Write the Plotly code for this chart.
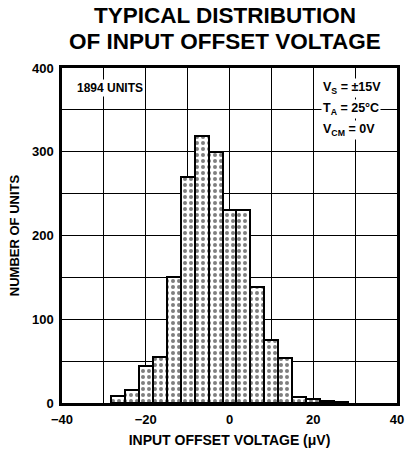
import plotly.graph_objects as go

bin_centers = [-26.67, -23.33, -20.0, -16.67, -13.33, -10.0, -6.67, -3.33, 0.0,
               3.33, 6.67, 10.0, 13.33, 16.67, 20.0, 23.33, 26.67]
unit_counts = [8, 15, 44, 55, 150, 270, 319, 300, 231, 231, 139, 75, 54, 7, 5, 2, 1]
bin_width = 10 / 3

x_tick_vals = list(range(-40, 41, 10))
x_tick_text = ["\u221240" if v == -40 else ("\u221220" if v == -20 else (str(v) if v % 20 == 0 else "")) for v in x_tick_vals]
y_tick_vals = list(range(0, 401, 50))
y_tick_text = [str(v) if v % 100 == 0 else "" for v in y_tick_vals]

title_lines = ["TYPICAL DISTRIBUTION", "OF INPUT OFFSET VOLTAGE"]
condition_lines = ["V<sub>S</sub> = \u00b115V", "T<sub>A</sub> = 25\u00b0C", "V<sub>CM</sub> = 0V"]

FONT = "Liberation Sans, Arial, sans-serif"

fig = go.Figure()
fig.add_trace(go.Bar(
    x=bin_centers,
    y=unit_counts,
    width=[bin_width] * len(bin_centers),
    marker=dict(
        color="white",
        line=dict(color="black", width=2),
        pattern=dict(shape=".", fgcolor="black", bgcolor="white", size=6, solidity=0.35),
    ),
    showlegend=False,
    hoverinfo="skip",
))

fig.update_layout(
    width=405, height=453,
    margin=dict(l=62, r=8, t=68, b=50, autoexpand=False),
    paper_bgcolor="white", plot_bgcolor="white",
    bargap=0,
    font=dict(family=FONT, color="black"),
    xaxis=dict(
        range=[-40, 40], tickvals=x_tick_vals, ticktext=x_tick_text,
        showgrid=True, gridcolor="black", gridwidth=1,
        showline=True, linecolor="black", linewidth=2.5, mirror=True,
        ticks="", zeroline=False, automargin=False, ticklabelstandoff=3,
        tickfont=dict(size=13, family=FONT, color="black", weight="bold"),
        title=dict(text="<b>INPUT OFFSET VOLTAGE (\u03bcV)</b>", font=dict(size=14, family=FONT), standoff=9),
    ),
    yaxis=dict(
        range=[0, 400], tickvals=y_tick_vals, ticktext=y_tick_text,
        showgrid=True, gridcolor="black", gridwidth=1,
        showline=True, linecolor="black", linewidth=2.5, mirror=True,
        ticks="", zeroline=False, automargin=False, ticklabelstandoff=3,
        tickfont=dict(size=13, family=FONT, color="black", weight="bold"),
        title=dict(text="<b>NUMBER OF UNITS</b>", font=dict(size=13, family=FONT), standoff=10),
    ),
)

for line, ypos in zip(title_lines, [1.157, 1.080]):
    fig.add_annotation(
        xref="paper", yref="paper", x=0.487, y=ypos, xanchor="center", yanchor="middle",
        text="<b>" + line + "</b>", showarrow=False,
        font=dict(size=22.5, family=FONT, color="black"),
    )

fig.add_annotation(
    xref="paper", yref="paper", x=0.04, y=0.940, xanchor="left", yanchor="middle",
    text="<b>1894 UNITS</b>", showarrow=False, bgcolor="white",
    font=dict(size=12, family=FONT, color="black"),
)
for line, ypos in zip(condition_lines, [0.940, 0.878, 0.815]):
    fig.add_annotation(
        xref="paper", yref="paper", x=0.772, y=ypos, xanchor="left", yanchor="middle",
        text="<b>" + line + "</b>", showarrow=False, bgcolor="white",
        font=dict(size=12.5, family=FONT, color="black"),
    )

fig.write_html("out.html", config={"displayModeBar": False},
               post_script="document.body.style.margin='0';")
